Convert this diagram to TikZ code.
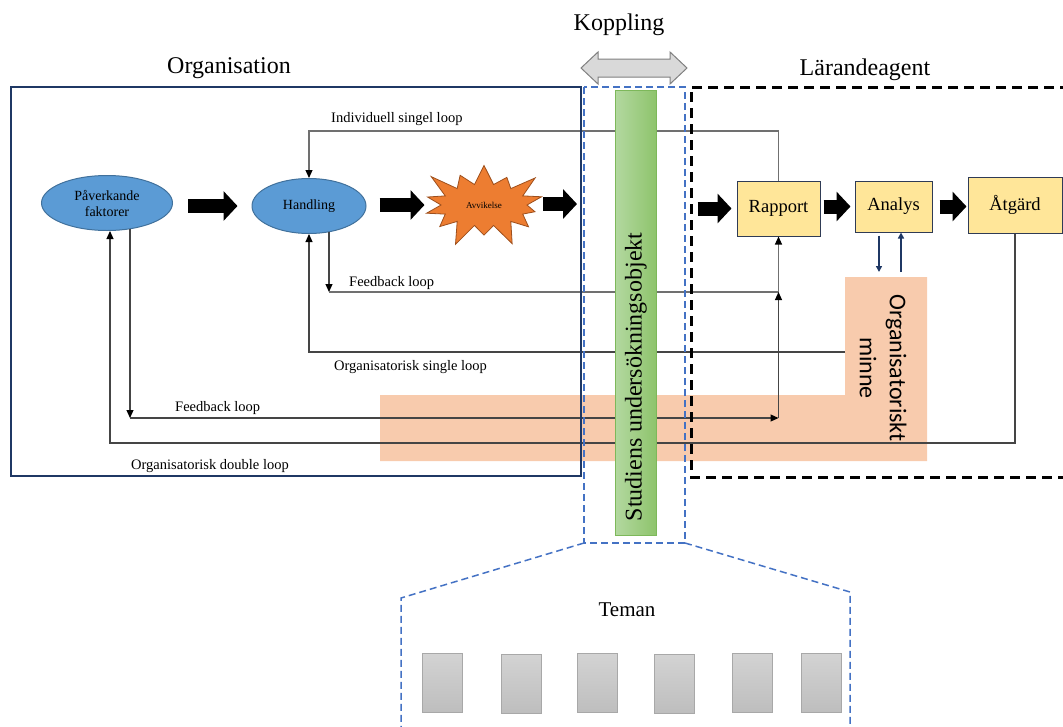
\documentclass[tikz,border=0pt]{standalone}
\usepackage{fontspec}
\setmainfont{Liberation Serif}
\newfontfamily\calibrifont{Carlito}
\usetikzlibrary{shapes.geometric,shapes.symbols,arrows.meta,calc}

\definecolor{navy}{HTML}{1F3864}
\definecolor{dashblue}{HTML}{4472C4}
\definecolor{ellfill}{HTML}{5B9BD5}
\definecolor{elldraw}{HTML}{41719C}
\definecolor{burstfill}{HTML}{ED7D31}
\definecolor{burstdraw}{HTML}{9E4F1C}
\definecolor{boxfill}{HTML}{FFE699}
\definecolor{boxdraw}{HTML}{2F3B55}
\definecolor{memfill}{HTML}{F8CBAD}
\definecolor{barleft}{HTML}{B3D8A0}
\definecolor{barright}{HTML}{8EC46C}
\definecolor{bardraw}{HTML}{7DB85A}
\definecolor{loopline}{HTML}{454545}
\definecolor{loopgrey}{HTML}{707070}
\definecolor{greyfill}{HTML}{D9D9D9}
\definecolor{greydraw}{HTML}{808080}
\definecolor{tabtop}{HTML}{D3D3D3}
\definecolor{tabbot}{HTML}{BEBEBE}
\definecolor{tabdraw}{HTML}{A8A8A8}

\begin{document}
\begin{tikzpicture}[x=1pt,y=-1pt,
  title/.style={font=\fontsize{24}{28}\selectfont, inner sep=0pt},
  lbl/.style={font=\fontsize{14.5}{16}\selectfont, inner sep=0pt, anchor=west},
  ln/.style={draw=loopline, line width=1.1pt},
  lng/.style={draw=loopgrey, line width=1.1pt},
  ah/.style={-{Triangle[length=8pt,width=7pt,color=black]}},
  fat/.style={line width=14pt, draw=black, -{Triangle[length=14pt,width=29pt]}},
  ellnode/.style={ellipse, fill=ellfill, draw=elldraw, line width=1pt, inner sep=0pt,
    minimum height=55pt, align=center, font=\fontsize{14}{16}\selectfont},
  ybox/.style={rectangle, fill=boxfill, draw=boxdraw, line width=1pt, inner sep=0pt,
    font=\fontsize{18.5}{20}\selectfont},
  tab/.style={rectangle, top color=tabtop, bottom color=tabbot, draw=tabdraw,
    line width=1pt, minimum width=40pt, minimum height=59pt, inner sep=0pt},
  bluedash/.style={draw=dashblue, line width=1.5pt, dash pattern=on 7pt off 4pt},
  memarrow/.style={draw=navy, line width=2pt, -{Triangle[length=6pt,width=6pt]}}
]
\useasboundingbox (0,0) rectangle (1063,726);

% organisational memory (L-shaped band)
\fill[memfill] (380,395) -- (845,395) -- (845,277) -- (927,277) -- (927,461) -- (380,461) -- cycle;

% titles
\node[title] (tK) at (619,25) {Koppling};
\node[title] (tO) at (229,68) {Organisation};
\node[title] (tL) at (865,70) {Lärandeagent};

% coupling double arrow
\filldraw[fill=greyfill, draw=greydraw, line width=1pt]
  (581,68) -- (598,52) -- (598,59) -- (670,59) -- (670,52) -- (687,68)
  -- (670,84) -- (670,77) -- (598,77) -- (598,84) -- cycle;

% organisation side
\node[ellnode, minimum width=131pt] (pf) at (107,203) {Påverkande\\faktorer};
\node[ellnode, minimum width=114pt] (hd) at (309,206) {Handling};
\node[starburst, starburst points=14, starburst point height=26pt,
  fill=burstfill, draw=burstdraw, line width=0.8pt, minimum width=138pt, minimum height=94pt,
  inner sep=0pt, font=\fontsize{9}{10}\selectfont] (sb) at (484,205) {Avvikelse};

% learning agent side
\node[ybox, minimum width=83pt, minimum height=55pt] (rp) at (778.5,208.5) {Rapport};
\node[ybox, minimum width=77pt, minimum height=51pt] (an) at (893.5,206.5) {Analys};
\node[ybox, minimum width=94pt, minimum height=56pt] (at) at (1015,205) {Åtgärd};

% helper coordinates for the loop levels
\coordinate (yInd) at (0,131);
\coordinate (yFb1) at (0,292);
\coordinate (yFb2) at (0,418);
\coordinate (fb1) at (329,292);
\coordinate (fb2) at (130,418);
\coordinate (memL) at (845,352);
\coordinate (dbl) at (110,443);

% individual single loop
\draw[lng,ah] (rp.north) |- (hd.north |- yInd) -- (hd.north);
% upper feedback loop
\draw[ln,ah] ($(hd.south -| fb1)+(0,-2)$) -- (fb1);
\draw[lng] (fb1) -- (rp.south |- yFb1);
% organisational single loop
\draw[ln,ah] (memL) -| (hd.south);
% lower feedback loop
\draw[ln,ah] ($(pf.south -| fb2)+(0,-2)$) -- (fb2);
\draw[ln,ah] (fb2) -- (rp.south |- yFb2);
\draw[ln,ah] (rp.south |- yFb2) -- (rp.south |- yFb1);
\draw[lng,ah] (rp.south |- yFb1) -- (rp.south);
% organisational double loop
\draw[ln,ah] (at.south) |- (dbl) -- ($(pf.south)+(3,0)$);

% loop labels
\node[lbl] (lInd) at (331,119) {Individuell singel loop};
\node[lbl] (lFb1) at (349,283) {Feedback loop};
\node[lbl] (lSgl) at (334,367) {Organisatorisk single loop};
\node[lbl] (lFb2) at (175,408) {Feedback loop};
\node[lbl] (lDbl) at (131,466) {Organisatorisk double loop};

% block arrows
\draw[fat] ([xshift=15pt]pf.east |- hd) -- ([xshift=-14pt]hd.west);
\draw[fat] ([xshift=13pt]hd.east |- sb) -- ++(45,0);
\coordinate (a3s) at (543,204);
\draw[fat] (a3s) -- ++(34,0);
\draw[fat] ([xshift=-39pt]rp.west) -- ([xshift=-5pt]rp.west);
\draw[fat] ([xshift=3pt]rp.east |- an) -- ([xshift=-4pt]an.west);
\draw[fat] ([xshift=7pt]an.east) -- ([xshift=-1pt]an.east -| at.west);

% analysis <-> memory
\coordinate (memTopA) at (879,272);
\coordinate (memTopB) at (901,272);
\draw[memarrow] (an.south -| memTopA) ++(0,3) -- (memTopA);
\draw[memarrow] (memTopB) -- (an.south -| memTopB);

% memory label
\node[rotate=-90, align=center, inner sep=0pt,
  font=\calibrifont\fontsize{24}{30}\selectfont] (mem) at (883,368) {Organisatoriskt\\minne};

% frames
\node[draw=navy, line width=2.5pt, minimum width=570pt, minimum height=389pt, inner sep=0pt]
  (org) at (296,281.5) {};
\draw[draw=black, line width=3pt, dash pattern=on 10pt off 6pt]
  (1070,87) -- (691,87) -- (691,477) -- (1070,477);
\draw[bluedash] (584,87) rectangle (685,543);

% study object bar
\node[rectangle, left color=barleft, right color=barright, draw=bardraw, line width=1pt,
  minimum width=41pt, minimum height=445pt, inner sep=0pt] (bar) at (635.5,312.5) {};
\node[rotate=90, font=\fontsize{24}{28}\selectfont, inner sep=0pt] (barT) at (636,377)
  {Studiens undersökningsobjekt};

% themes
\draw[bluedash] (584,543) -- (401,598) -- (401,740);
\draw[bluedash] (685,543) -- (850,592) -- (850,740);
\node[font=\fontsize{21}{24}\selectfont, inner sep=0pt] (tT) at (627,610) {Teman};
\node[tab] (t1) at (442,682.5) {};
\node[tab] (t2) at (521,683.5) {};
\node[tab] (t3) at (597.5,683) {};
\node[tab] (t4) at (674.5,683.5) {};
\node[tab] (t5) at (752.5,682.5) {};
\node[tab] (t6) at (821.5,682.5) {};
\end{tikzpicture}
\end{document}
